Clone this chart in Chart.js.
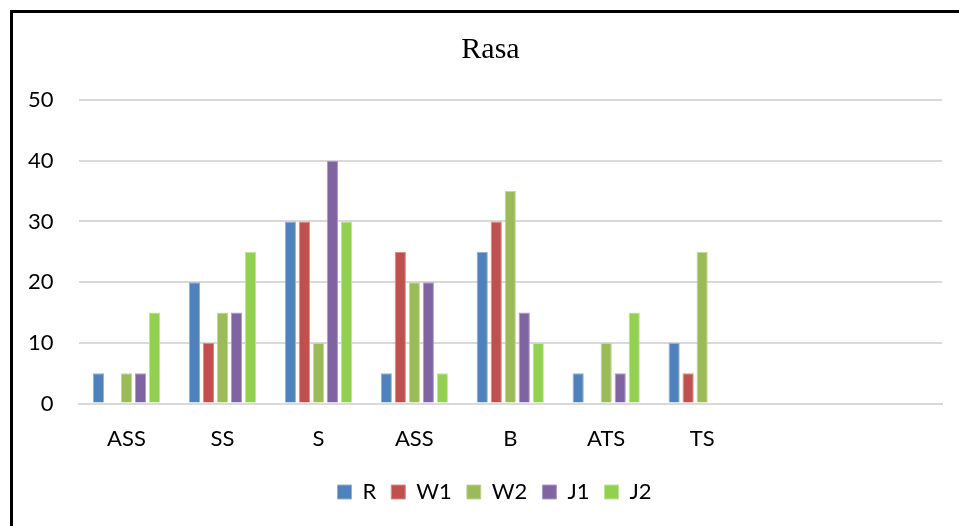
<!DOCTYPE html>
<html>
<head>
<meta charset="utf-8">
<script src="https://cdn.jsdelivr.net/npm/chart.js@4.4.1/dist/chart.umd.min.js"></script>
<style>
  html, body { margin: 0; padding: 0; background: #fff; overflow: hidden; }
  #wrap { position: relative; width: 959px; height: 526px; }
  #frame {
    position: absolute; left: 10px; top: 10px; width: 1000px; height: 600px;
    border-left: 3px solid #000; border-top: 3px solid #000;
  }
  #rasaChart { position: absolute; left: 0; top: 0; }
</style>
</head>
<body>
<div id="wrap">
  <div id="frame"></div>
  <canvas id="rasaChart" width="959" height="526"></canvas>
</div>
<script>
// Rasa - grouped bar chart

const categories = ['ASS', 'SS', 'S', 'ASS', 'B', 'ATS', 'TS', '', ''];
const seriesR  = [5, 20, 30, 5, 25, 5, 10, null, null];
const seriesW1 = [0, 10, 30, 25, 30, 0, 5, null, null];
const seriesW2 = [5, 15, 10, 20, 35, 10, 25, null, null];
const seriesJ1 = [5, 15, 40, 20, 15, 5, 0, null, null];
const seriesJ2 = [15, 25, 30, 5, 10, 15, 0, null, null];

const baseFont = 'Lato, "Open Sans", sans-serif';

function bar(label, data, color, edge) {
  return {
    label: label,
    data: data,
    backgroundColor: color,
    borderColor: edge,
    borderWidth: 1,
    barPercentage: 0.8,
    categoryPercentage: 0.73,
  };
}

// Excel centres title and legend a bit right of the canvas middle
const nudgeBlocks = {
  id: 'nudgeBlocks',
  afterLayout(chart) {
    if (chart.titleBlock) {
      chart.titleBlock.left += 18;
      chart.titleBlock.right += 18;
    }
    if (chart.legend) {
      chart.legend.left += 22;
      chart.legend.right += 22;
    }
  }
};

new Chart(document.getElementById('rasaChart'), {
  type: 'bar',
  data: {
    labels: categories,
    datasets: [
      bar('R', seriesR, '#4f81bd', '#8fb0d8'),
      bar('W1', seriesW1, '#c0504d', '#d98a88'),
      bar('W2', seriesW2, '#9bbb59', '#c2d79a'),
      bar('J1', seriesJ1, '#8064a2', '#ae9ac6'),
      bar('J2', seriesJ2, '#92d050', '#bfe596'),
    ]
  },
  options: {
    responsive: false,
    animation: false,
    layout: {
      padding: { left: 3, right: 17, top: 32, bottom: 13 }
    },
    plugins: {
      title: {
        display: true,
        text: 'Rasa',
        color: '#000',
        font: { family: '"Liberation Serif", "Times New Roman", serif', size: 30, weight: 'normal' },
        padding: { top: 0, bottom: 32 }
      },
      legend: {
        display: true,
        position: 'bottom',
        labels: {
          color: '#000',
          boxWidth: 14,
          boxHeight: 14,
          padding: 15,
          font: { family: baseFont, size: 22 }
        }
      },
      tooltip: { enabled: false }
    },
    scales: {
      y: {
        min: 0,
        max: 50,
        ticks: {
          stepSize: 10,
          color: '#000',
          padding: 25,
          font: { family: baseFont, size: 22 }
        },
        grid: {
          color: '#d9d9d9',
          lineWidth: 2,
          drawTicks: false
        },
        border: { display: false }
      },
      x: {
        ticks: {
          color: '#000',
          padding: 14,
          autoSkip: false,
          maxRotation: 0,
          font: { family: baseFont, size: 22 }
        },
        grid: { display: false },
        border: { color: '#d9d9d9', width: 2 }
      }
    }
  },
  plugins: [nudgeBlocks]
});
</script>
</body>
</html>
